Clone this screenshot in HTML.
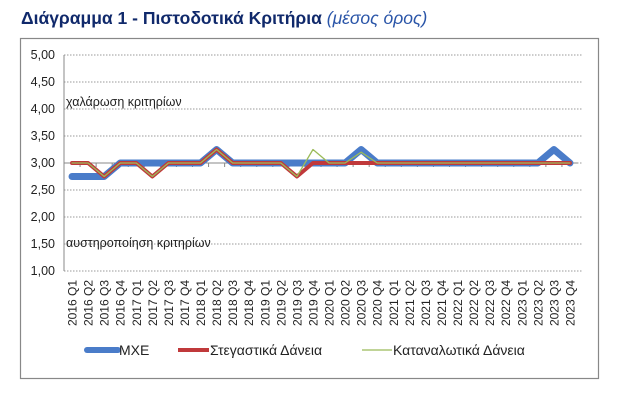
<!DOCTYPE html>
<html><head><meta charset="utf-8"><style>
body{margin:0;background:#fff;width:629px;height:403px;overflow:hidden;font-family:"Liberation Sans",sans-serif}
</style></head><body>
<svg width="629" height="403" xmlns="http://www.w3.org/2000/svg" font-family="Liberation Sans, sans-serif">
<text x="21" y="24" font-size="17.5" font-weight="bold" fill="#10296b">Διάγραμμα 1 - Πιστοδοτικά Κριτήρια <tspan font-weight="normal" font-style="italic" fill="#2a55a8">(μέσος όρος)</tspan></text>
<rect x="20.5" y="38.5" width="578" height="340" fill="none" stroke="#888" stroke-width="1.2"/>
<g id="grid"></g><g id="axes"></g><g id="series"></g><g id="xlabels"></g>
<text x="66" y="106" font-size="12.5" fill="#222">χαλάρωση κριτηρίων</text>
<text x="66" y="247" font-size="12.5" fill="#222">αυστηροποίηση κριτηρίων</text>
<g font-size="14" fill="#222">
<line x1="87" y1="350" x2="118" y2="350" stroke="#4a7cc9" stroke-width="6" stroke-linecap="round"/>
<text x="119" y="355">ΜΧΕ</text>
<line x1="178" y1="350" x2="209" y2="350" stroke="#c0393b" stroke-width="4"/>
<text x="210" y="355">Στεγαστικά Δάνεια</text>
<line x1="362" y1="350" x2="392" y2="350" stroke="#9bbb59" stroke-width="1.2"/>
<text x="393" y="355">Καταναλωτικά Δάνεια</text>
</g>
</svg>
<script>
const categories=[];for(let y=2016;y<=2023;y++)for(let q=1;q<=4;q++)categories.push(y+" Q"+q);
const yTicks=[1,1.5,2,2.5,3,3.5,4,4.5,5];
const mxe=[2.75,2.75,2.75,3,3,3,3,3,3,3.25,3,3,3,3,3,3,3,3,3.25,3,3,3,3,3,3,3,3,3,3,3,3.25,3];
const housing=[3,3,2.75,3,3,2.75,3,3,3,3.25,3,3,3,3,2.75,3,3,3,3,3,3,3,3,3,3,3,3,3,3,3,3,3];
const consumer=[3,3,2.75,3,3,2.75,3,3,3,3.25,3,3,3,3,2.75,3.25,3,3,3.2,3,3,3,3,3,3,3,3,3,3,3,3,3];
const NS="http://www.w3.org/2000/svg";
const L=64,R=578,T=55,B=271,w=(R-L)/categories.length;
const X=i=>L+(i+0.5)*w, Y=v=>B-(v-1)/(5-1)*(B-T);
function mk(t,a,p){const e=document.createElementNS(NS,t);for(const k in a)e.setAttribute(k,a[k]);p.appendChild(e);return e;}
const grid=document.getElementById('grid');
yTicks.forEach(v=>{
  const l=mk('line',{x1:L,x2:R+4,y1:Y(v),y2:Y(v),stroke:'#999','stroke-dasharray':'1.5,1.5'},grid);
  
  
  const t=mk('text',{x:55,y:Y(v)+4,'text-anchor':'end','font-size':12.5,fill:'#222'},grid);
  
  
  t.textContent=v.toFixed(2).replace('.',',');
});
const axes=document.getElementById('axes');
const ya=mk('line',{x1:L,x2:L,y1:T,y2:B,stroke:'#888'},axes);


const xa=mk('line',{x1:L,x2:R,y1:Y(3),y2:Y(3),stroke:'#888'},axes);


categories.forEach((c,i)=>{mk('line',{x1:L+i*w,x2:L+i*w,y1:Y(3),y2:Y(3)+4,stroke:'#888'},axes);});
const S=document.getElementById('series');
function line(arr,col,sw,name){
  const p=mk('polyline',{points:arr.map((v,i)=>X(i)+','+Y(v)).join(' '),fill:'none',stroke:col,'stroke-width':sw,'stroke-linejoin':'round','stroke-linecap':'round'},S);
  
  
}
line(mxe,'#4a7cc9',7,'series-mxe');
line(housing,'#c0393b',4,'series-housing-loans');
line(consumer,'#9bbb59',1.3,'series-consumer-loans');
const xl=document.getElementById('xlabels');
categories.forEach((c,i)=>{
  const t=mk('text',{x:0,y:0,transform:`translate(${X(i)+4.5},280) rotate(-90)`,'text-anchor':'end','font-size':12,fill:'#222'},xl);
  
  
  t.textContent=c;
});
</script>
</body></html>
